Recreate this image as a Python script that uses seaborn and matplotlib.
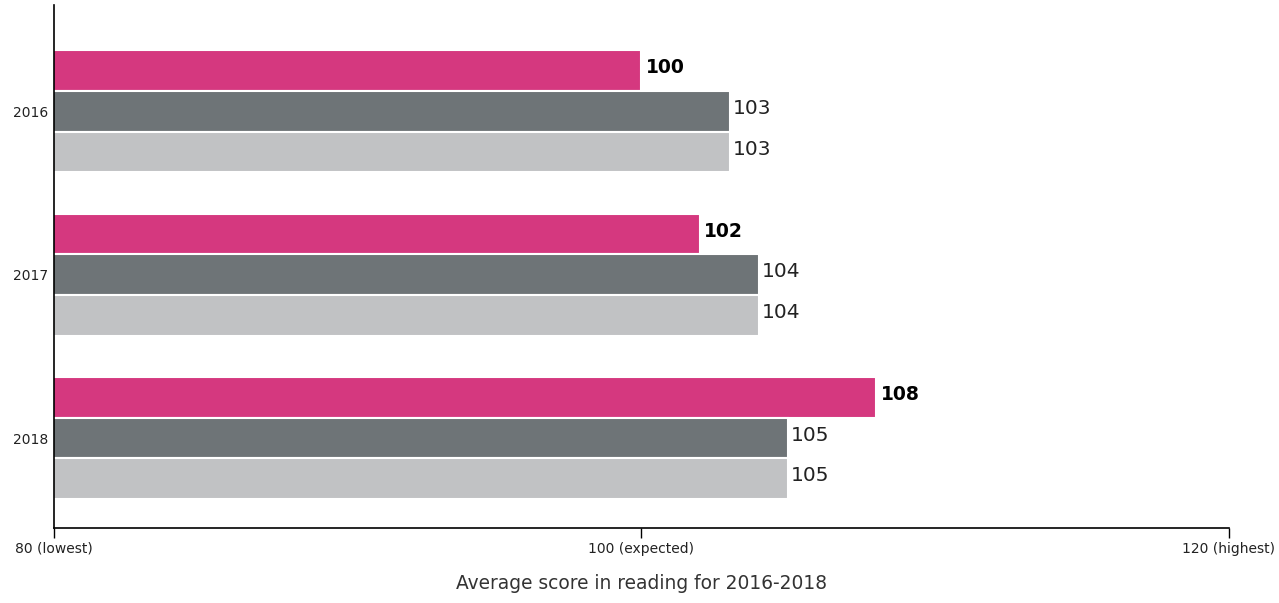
import pandas as pd
import matplotlib.pyplot as plt
import seaborn as sns

years = ["2016", "2017", "2018"]
series = ["School", "Local authority", "England"]
school = [100, 102, 108]
local = [103, 104, 105]
england = [103, 104, 105]
colors = ["#d5387f", "#6e7477", "#c1c2c4"]
xticks = [80, 100, 120]
xticklabels = ["80 (lowest)", "100 (expected)", "120 (highest)"]

df = pd.DataFrame({
    "year": years * 3,
    "group": [series[0]] * 3 + [series[1]] * 3 + [series[2]] * 3,
    "score": school + local + england,
})

sns.set_style("white")
plt.rcParams["font.family"] = ["DejaVu Sans"]

fig = plt.figure(figsize=(12.79, 6.03), dpi=100)
ax = fig.add_axes([0.0422, 0.1244, 0.9187, 0.8673])

sns.barplot(data=df, x="score", y="year", hue="group", orient="h",
            palette=colors, saturation=1, width=0.745, edgecolor="white",
            linewidth=1.5, legend=False, ax=ax)

# value labels, first series in bold, nudged up a little
for i, cont in enumerate(ax.containers):
    if i == 0:
        labs = ax.bar_label(cont, padding=3, fontsize=13.5, fontweight="bold", color="black")
    else:
        labs = ax.bar_label(cont, padding=2, fontsize=14.5, color="#222222")
    for t in labs:
        t.xyann = (t.xyann[0], 2)

ax.set_xlim(80, 120)
ax.set_ylim(2.55, -0.65)
ax.set_xticks(xticks)
ax.set_xticklabels(xticklabels, fontsize=10, color="#222222")
ax.tick_params(axis="x", bottom=True, direction="out", length=7, width=1, color="black", pad=3)
ax.tick_params(axis="y", left=False, length=0, labelsize=10, labelcolor="#222222", pad=4)
ax.set_ylabel("")
ax.set_xlabel("Average score in reading for 2016-2018", fontsize=13.4, color="#333333", labelpad=13)

sns.despine(ax=ax, top=True, right=True)
ax.spines["left"].set_color("black")
ax.spines["bottom"].set_color("black")
ax.spines["left"].set_linewidth(1.2)
ax.spines["bottom"].set_linewidth(1.2)

fig.savefig("out.png", dpi=100)
